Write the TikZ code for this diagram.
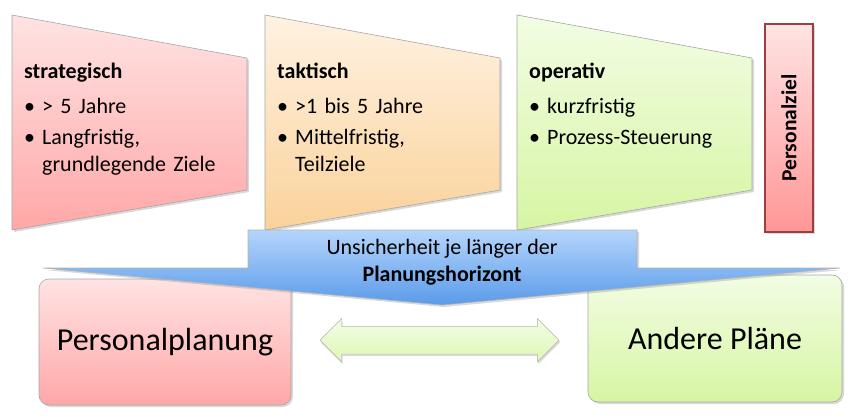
\documentclass[tikz,border=0pt]{standalone}
\usepackage{fontspec}
\setmainfont{Carlito}
\usepackage{tikz}
\usetikzlibrary{shapes.arrows, shadows, positioning, calc}
\definecolor{stratTop}{HTML}{FFE3E3}
\definecolor{stratBot}{HTML}{FFA7A7}
\definecolor{taktTop}{HTML}{FFF2E2}
\definecolor{taktBot}{HTML}{FAD29A}
\definecolor{operTop}{HTML}{F2FDE4}
\definecolor{operBot}{HTML}{D7F5A3}
\definecolor{horTop}{HTML}{B4D5FB}
\definecolor{horBot}{HTML}{5B9BEA}
\definecolor{zielLine}{HTML}{9A4040}
\newcommand{\bul}[1]{\par\vspace{4pt}\noindent\makebox[18pt][l]{\textbullet}\parbox[t]{195pt}{#1}}

\begin{document}
\begin{tikzpicture}[x=1pt, y=-1pt,
        stage/.style={draw=gray!70, line width=0.6pt, drop shadow={shadow xshift=2pt, shadow yshift=-2pt, opacity=0.3}},
        stufe/.style={anchor=north west, inner sep=0pt, text width=215pt, align=left, font=\fontsize{22}{27}\selectfont},
        plan/.style={stage, rounded corners=10pt, minimum width=252pt, minimum height=126pt, font=\fontsize{32}{36}\selectfont},
        link/.style={double arrow, draw=gray!60, top color=operTop, bottom color=operBot!80, inner sep=13.5pt, minimum height=239pt, double arrow head extend=8pt, drop shadow={shadow xshift=1pt, shadow yshift=-2pt, opacity=0.3}}
    ]
        \useasboundingbox (0,0) rectangle (858,418);

        \foreach \x/\ct/\cb in {12/stratTop/stratBot, 265/taktTop/taktBot, 517/operTop/operBot}
            \path[stage, top color=\ct, bottom color=\cb] (\x,15) -- (\x+235,58) -- (\x+235,190) -- (\x,230) -- cycle;

        \node[stufe] (strat) at (24,63) {\textbf{strategisch}\vspace{4pt}\bul{> 5 Jahre}\bul{Langfristig,\\grundlegende Ziele}};
        \node[stufe] (takt) at (277,63) {\textbf{taktisch}\vspace{4pt}\bul{>1 bis 5 Jahre}\bul{Mittelfristig,\\Teilziele}};
        \node[stufe] (oper) at (529,63) {\textbf{operativ}\vspace{4pt}\bul{kurzfristig}\bul{Prozess-Steuerung}};

        \node[stage, draw=zielLine, line width=1.5pt, top color=stratTop, bottom color=stratBot!90!red, minimum width=48pt, minimum height=208pt, inner sep=0pt] (ziel) at (789,128) {};
        \node[rotate=90, font=\fontsize{21.5}{24}\selectfont\bfseries] (zieltext) at (ziel.center) {Personalziel};

        \node[plan, top color=stratTop, bottom color=stratBot] (personal) at (165,342) {Personalplanung};
        \node[plan, top color=operTop, bottom color=operBot, minimum width=254pt, minimum height=127pt] (andere) at (715,338.5) {Andere Pläne};
        \node[link] (pfeil) at ($(personal.east)!0.5!(andere.west)$) {};

        \path[stage, draw=gray!60, top color=horTop, bottom color=horBot] (248,230) -- (637,230) -- (637,268) -- (840,268) -- (442,305) -- (43,268) -- (248,268) -- cycle;
        \node[align=center, font=\fontsize{22}{27}\selectfont] (horizont) at (442,262) {Unsicherheit je länger der\\\textbf{Planungshorizont}};
    \end{tikzpicture}
\end{document}
